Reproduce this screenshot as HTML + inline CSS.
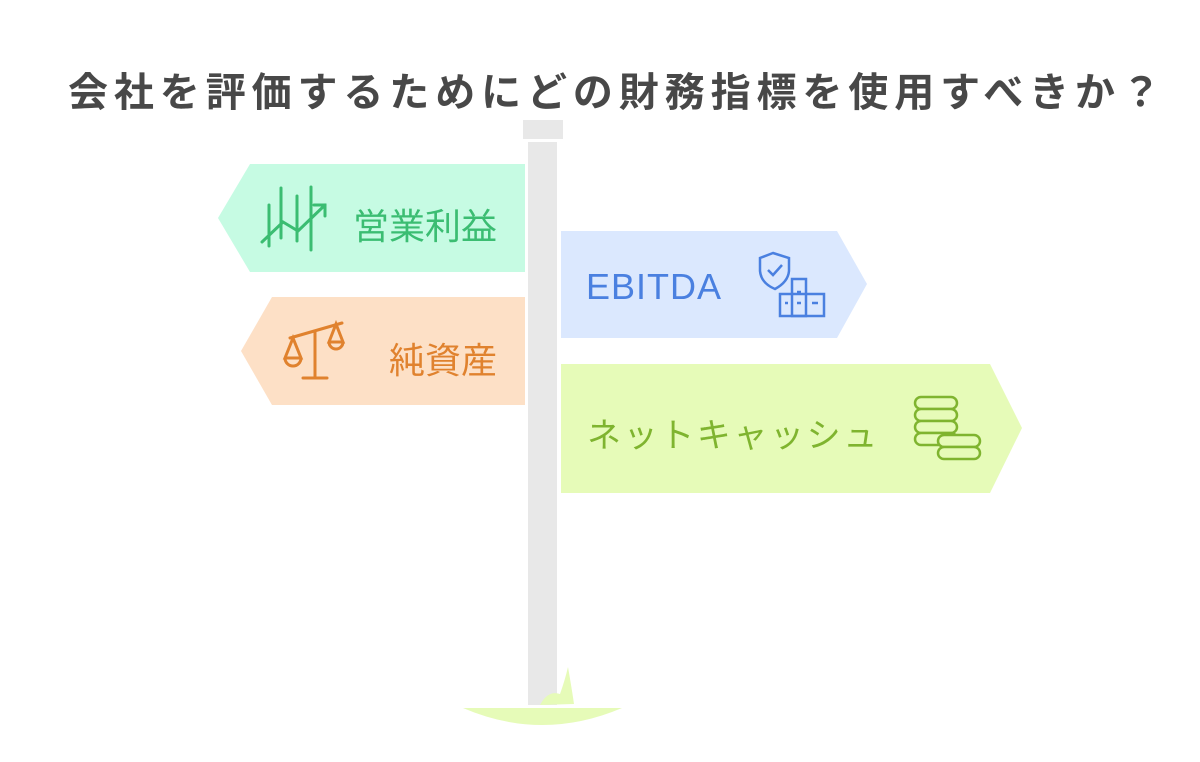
<!DOCTYPE html>
<html><head><meta charset="utf-8"><style>
body{margin:0;background:#fff;width:1200px;height:762px;overflow:hidden;position:relative;font-family:"Liberation Sans","Noto Sans CJK JP",sans-serif}
.t{position:absolute;white-space:nowrap}
</style></head><body>
<div class="t" style="left:68px;top:60px;font-size:40px;font-weight:bold;color:#484848;letter-spacing:5.9px">会社を評価するためにどの財務指標を使用すべきか？</div>
<svg width="1200" height="762" style="position:absolute;left:0;top:0">
<rect x="523" y="120" width="40" height="19" fill="#e8e8e8"/>
<rect x="528" y="142" width="29" height="563" fill="#e8e8e8"/>
<path d="M463 708 Q542 742 622 708 Z" fill="#e6fbb8"/>
<path d="M540 705 Q548 690 560 694 Q565 680 568 667 Q572 690 574 704 Z" fill="#e6fbb8"/>
<polygon points="250,164 525,164 525,272 250,272 218,218" fill="#c6fbe3"/>
<polygon points="272,297 525,297 525,405 272,405 241,351" fill="#fde0c6"/>
<polygon points="561,231 837,231 867,284 837,338 561,338" fill="#dbe8fe"/>
<polygon points="561,364 990,364 1022,428 990,493 561,493" fill="#e6fbb8"/>
<g stroke="#3bbd72" stroke-width="3" fill="none" stroke-linecap="round">
<line x1="269" y1="205" x2="269" y2="246"/><line x1="281" y1="188" x2="281" y2="238"/><line x1="297" y1="196" x2="297" y2="241"/><line x1="311" y1="187" x2="311" y2="250"/>
<polyline points="262,242 283,222 298,231 325,205"/><polyline points="314,205 325,205 325,216"/>
</g>
<g stroke="#e0822e" stroke-width="3" fill="none" stroke-linecap="round">
<line x1="290" y1="338" x2="342" y2="323"/><line x1="315" y1="331" x2="315" y2="378"/><line x1="303" y1="378" x2="327" y2="378"/>
<path d="M285 358 L293 338 L301 358 Z M285 358 A8 8 0 0 0 301 358"/><path d="M329 342 L336 324 L343 342 Z M329 342 A7 7 0 0 0 343 342"/>
</g>
<g stroke="#4a80e0" stroke-width="2.5" fill="none">
<path d="M773 253 L760 258 L760 271 Q761 283 775 289 Q788 282 789 271 L789 258 Z"/><polyline points="768,270 773,275 782,265"/>
<rect x="780" y="294" width="44" height="22"/><rect x="792" y="279" width="14" height="37"/>
<line x1="785" y1="303" x2="788" y2="303"/><line x1="797" y1="292" x2="801" y2="292"/><line x1="797" y1="303" x2="801" y2="303"/><line x1="812" y1="303" x2="818" y2="303"/>
</g>
<g stroke="#7fb42f" stroke-width="2.5" fill="#e6fbb8">
<rect x="915" y="397" width="42" height="12" rx="6"/><rect x="915" y="409" width="42" height="12" rx="6"/><rect x="915" y="421" width="42" height="12" rx="6"/><rect x="915" y="433" width="42" height="12" rx="6"/>
<rect x="938" y="435" width="42" height="12" rx="6"/><rect x="938" y="447" width="42" height="12" rx="6"/>
</g>
</svg>
<div class="t" style="left:353px;top:198px;font-size:36px;color:#3bbd72">営業利益</div>
<div class="t" style="left:389px;top:332px;font-size:36px;color:#e0822e">純資産</div>
<div class="t" style="left:586px;top:266px;font-size:36px;color:#4a80e0;letter-spacing:1px">EBITDA</div>
<div class="t" style="left:587px;top:408px;font-size:34px;color:#7fb42f;letter-spacing:2.6px">ネットキャッシュ</div>
</body></html>
